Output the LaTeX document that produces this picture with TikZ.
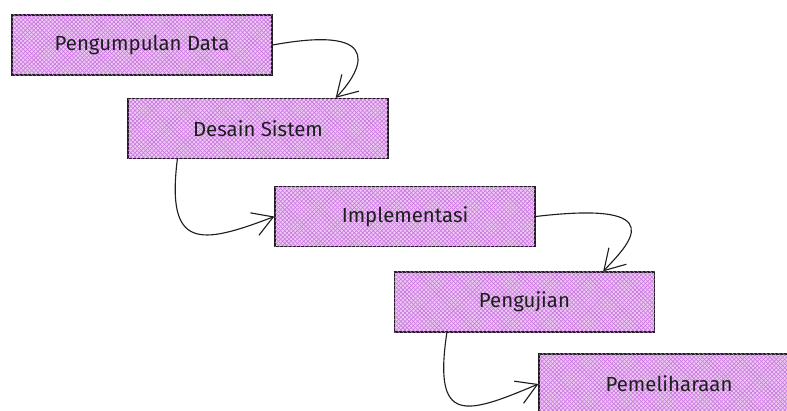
\documentclass[tikz,border=0pt]{standalone}
\usepackage{fontspec}
\setmainfont{Fira Sans}
\usepackage{xcolor}
\usepackage{tikz}
\usetikzlibrary{arrows.meta}
\usetikzlibrary{patterns}
\usetikzlibrary{calc}

\definecolor{boxfill}{RGB}{238,200,244}
\definecolor{hatch}{RGB}{200,118,222}
\definecolor{ink}{RGB}{30,30,30}

\begin{document}
\begin{tikzpicture}[x = 0.025cm, y = 0.025cm]
			\clip (0, 0) rectangle (787, 410);
			
			\begin{scope}[every node/.style={rectangle, draw = ink, line width = 0.9pt, minimum width = 6.5cm, minimum height = 1.5cm, text = ink,
				preaction = {fill = boxfill},
				pattern = north east lines, pattern color = hatch,
				postaction = {pattern = north west lines, pattern color = hatch},
				font = \fontsize{14.5}{16}\selectfont}]
			\node (0) at (142, 365) {Pengumpulan Data};
			\node (1) at (258, 281.5) {Desain Sistem};
			\node (2) at (405, 193.5) {Implementasi};
			\node (3) at (524.5, 108) {Pengujian};
			\node (4) at (669, 26) {Pemeliharaan};
			\end{scope}
			
			\begin{scope}[>={Straight Barb[length = 5mm, width = 6mm]}, line width = 0.8pt, draw = ink]
			\draw [->] (0.east) .. controls (392, 387) and (358, 335) .. ([xshift = -1.325cm]1.north east);
			\draw [->] ([xshift = 1.25cm]1.south west) .. controls (166, 160) and (200, 165) .. (2.west);
			\draw [->] (2.east) .. controls (675, 210) and (628, 165) .. ([xshift = -1.3cm]3.north east);
			\draw [->] ([xshift = 1.325cm]3.south west) .. controls (433, -15) and (465, -5) .. (4.west);
			\end{scope}
			
			\end{tikzpicture}
\end{document}
